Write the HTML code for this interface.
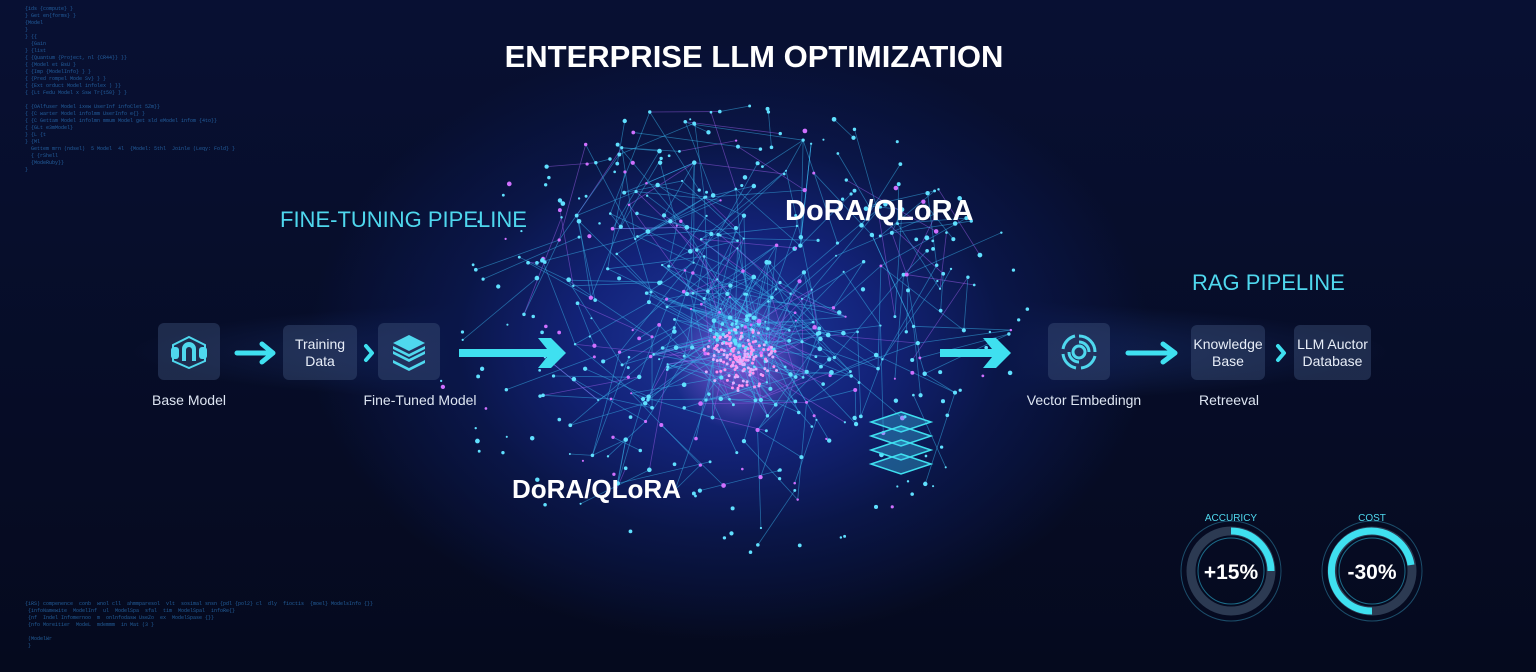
<!DOCTYPE html><html><head><style>
body{margin:0;width:1536px;height:672px;overflow:hidden;background:#060c22;font-family:"Liberation Sans",sans-serif}
#bg{position:absolute;inset:0;background:radial-gradient(ellipse 420px 300px at 730px 340px,#1f3aa0 0%,#13237a 35%,#0a1648 65%,transparent 100%),radial-gradient(ellipse 900px 80px at 760px 352px,rgba(60,120,255,.35),transparent 70%),linear-gradient(#081033,#050a1e)}
.t{position:absolute;color:#fff;white-space:nowrap}
.box{position:absolute;background:rgba(60,80,120,.45);border-radius:6px;color:#e8eef8;font-size:14px;text-align:center;display:flex;align-items:center;justify-content:center;line-height:17px}
.lbl{position:absolute;color:#dde5f2;font-size:14px;white-space:nowrap;transform:translateX(-50%)}
.code{position:absolute;color:#2a72b8;font:5px "Liberation Mono",monospace;line-height:7px;white-space:pre;opacity:.8}
</style></head><body><div id="bg"></div>
<svg id="net" width="1536" height="672" style="position:absolute;left:0;top:0"></svg>
<div class="code" style="left:25px;top:6px">{ids {compute} }
} Get en{forms} }
{Model
}
} {{
  {Gain
} {list
{ {Quantum {Project, nl {CR44}} }}
{ {Model et BsU }
{ {Imp {ModelInfo} } }
{ {Pred rompel Mode Sv} } }
{ {Ext orduct Model infolex ) }}
{ {Lt Fedu Model x Ssw Tr{t50} } }

{ {OAlfuser Model ixew UserInf infoClet 5Zm}}
{ {C warter Model infolmm UserInfo e{} }
{ {C Gettam Model infolmn mmum Model get sld eModel infom {4to}}
{ {GLt e3mModel}
} {L {t
} {Ml
  Gettem mrn (ndsel)  5 Model  4l  {Model: 5thl  Joinle (Leqy: Fold} }
  { {rShell
  {ModeRuby}}
}</div>
<div class="code" style="left:25px;top:601px">{iRS) compenence  conb  wnol cll  ahmmparesol  vlt  sosimal snsn {pdl {pol2} cl  dly  fioctis  {moel} ModelsInfo {}}
 {infoNamewite  ModelInf  ul  ModelSpa  sfal  tim  ModelSpal  infoRe{}
 {nf  Indel Infomernoo  m  onlnfodasw UseZo  ex  ModelSpase {}}
 {nfo Moreitier  ModeL  mdemmm  in Mat (3 }

 (ModelWr
 }</div>
<div class="t" style="left:0;width:1508px;text-align:center;top:39px;font-size:31px;font-weight:bold">ENTERPRISE LLM OPTIMIZATION</div>
<div class="t" style="left:280px;top:207px;font-size:22px;color:#4fd8ee">FINE-TUNING PIPELINE</div>
<div class="t" style="left:785px;top:195px;font-size:29px;font-weight:bold">DoRA/QLoRA</div>
<div class="t" style="left:512px;top:474px;font-size:26px;font-weight:bold">DoRA/QLoRA</div>
<div class="t" style="left:1192px;top:270px;font-size:22px;color:#4fd8ee">RAG PIPELINE</div>

<div class="box" style="left:158px;top:323px;width:62px;height:57px"><svg width="40" height="34" viewBox="0 0 40 34"><path d="M20 2 L36 10 L36 26 L20 33 L4 26 L4 10Z" fill="none" stroke="#4fd8ee" stroke-width="2"/><rect x="2" y="12" width="8" height="12" rx="3" fill="#4fd8ee"/><rect x="30" y="12" width="8" height="12" rx="3" fill="#4fd8ee"/><path d="M13 26 V14 a7 7 0 0 1 14 0 V26 h-4 V15 a3 3 0 0 0 -6 0 V26Z" fill="#4fd8ee"/></svg></div>
<div class="box" style="left:283px;top:325px;width:74px;height:55px">Training<br>Data</div>
<div class="box" style="left:378px;top:323px;width:62px;height:57px"><svg width="36" height="38" viewBox="0 0 36 38"><path d="M18 2 L34 10 L18 18 L2 10Z" fill="#4fd8ee"/><path d="M2 18 L18 26 L34 18 L34 21 L18 29 L2 21Z" fill="#4fd8ee"/><path d="M2 27 L18 35 L34 27 L34 30 L18 38 L2 30Z" fill="#4fd8ee"/><path d="M2 13 L18 21 L34 13 L34 16 L18 24 L2 16Z" fill="#4fd8ee"/></svg></div>
<div class="box" style="left:1048px;top:323px;width:62px;height:57px"><svg width="40" height="40" viewBox="-20 -20 40 40"><g fill="none" stroke="#4fd8ee" stroke-width="3"><circle r="6"/><path d="M0 -16 A16 16 0 0 1 16 0"/><path d="M16 4 A16 16 0 0 1 2 16"/><path d="M-3 16 A16 16 0 0 1 -16 2"/><path d="M-16 -3 A16 16 0 0 1 -4 -16"/><path d="M0 -10 A10 10 0 0 1 10 0"/><path d="M0 10 A10 10 0 0 1 -10 0"/></g></svg></div>
<div class="box" style="left:1191px;top:325px;width:74px;height:55px">Knowledge<br>Base</div>
<div class="box" style="left:1294px;top:325px;width:77px;height:55px">LLM Auctor<br>Database</div>

<div class="lbl" style="left:189px;top:392px">Base Model</div>
<div class="lbl" style="left:420px;top:392px">Fine-Tuned Model</div>
<div class="lbl" style="left:1084px;top:392px">Vector Embedingn</div>
<div class="lbl" style="left:1229px;top:392px">Retreeval</div>

<svg width="1536" height="672" style="position:absolute;left:0;top:0">
<g stroke="#3fe0f0" fill="none" stroke-linecap="round" stroke-linejoin="round">
<path d="M237 353H272M262 344L273 353L262 362" stroke-width="5"/>
<path d="M366 346L372 353L366 360" stroke-width="4"/>
<path d="M1278 346L1284 353L1278 360" stroke-width="4"/>
<path d="M1128 353H1175M1163 344L1175 353L1163 362" stroke-width="5"/>
</g>
<g fill="#3fe0f0"><path d="M459 349H547L538 338L551 338L566 353L551 368L538 368L547 357H459Z"/><path d="M940 349H992L983 338L996 338L1011 353L996 368L983 368L992 357H940Z"/></g>
<g transform="translate(901 440)" stroke="#3fe0f0" stroke-width="1.5" fill="rgba(60,200,240,.35)"><path d="M0 -28 L30 -18 L0 -8 L-30 -18Z"/><path d="M0 -14 L30 -4 L0 6 L-30 -4Z"/><path d="M0 0 L30 10 L0 20 L-30 10Z"/><path d="M0 14 L30 24 L0 34 L-30 24Z"/></g>
<g fill="none">
<circle cx="1231" cy="571" r="50" stroke="#1c4d6a" stroke-width="1"/>
<circle cx="1231" cy="571" r="40" stroke="#2c3a52" stroke-width="9"/>
<path d="M1231 531 A40 40 0 0 1 1271 571" stroke="#3fe0f0" stroke-width="7" stroke-linecap="butt"/>
<circle cx="1231" cy="571" r="33" stroke="#1c6b88" stroke-width="1"/>
<circle cx="1372" cy="571" r="50" stroke="#1c4d6a" stroke-width="1"/>
<circle cx="1372" cy="571" r="40" stroke="#2c3a52" stroke-width="9"/>
<path d="M1411 565 A40 40 0 1 0 1372 611" stroke="#3fe0f0" stroke-width="7"/>
<circle cx="1372" cy="571" r="33" stroke="#1c6b88" stroke-width="1"/>
</g>
<g font-family="Liberation Sans" text-anchor="middle">
<text x="1231" y="521" fill="#4fd8ee" font-size="10">ACCURICY</text>
<text x="1372" y="521" fill="#4fd8ee" font-size="10">COST</text>
<text x="1231" y="579" fill="#fff" font-size="21" font-weight="bold">+15%</text>
<text x="1372" y="579" fill="#fff" font-size="21" font-weight="bold">-30%</text>
</g></svg>
<script>
var s=document.getElementById('net'),seed=7;function r(){seed=(seed*16807)%2147483647;return seed/2147483647}
var P=[],h='';for(var i=0;i<520;i++){var a=r()*6.283,d=Math.pow(r(),0.8);var x=730+Math.cos(a)*d*300,y=330+Math.sin(a)*d*230;P.push([x,y])}
for(i=0;i<P.length;i++){for(var k=0;k<5;k++){var j=Math.floor(r()*P.length),q=P[j],p=P[i];var dd=Math.hypot(p[0]-q[0],p[1]-q[1]);if(dd<110)h+='<line x1="'+p[0]+'" y1="'+p[1]+'" x2="'+q[0]+'" y2="'+q[1]+'" stroke="'+(r()<.15?'#a060f0':'#3ab8f0')+'" stroke-opacity=".5" stroke-width=".8"/>'}}
for(i=0;i<P.length;i++){h+='<circle cx="'+P[i][0]+'" cy="'+P[i][1]+'" r="'+(1+r()*1.4)+'" fill="'+(r()<.18?'#d070ff':'#60e0ff')+'"/>'}
for(i=0;i<160;i++){a=r()*6.283;d=r()*40;h+='<circle cx="'+(740+Math.cos(a)*d)+'" cy="'+(360+Math.sin(a)*d*.8)+'" r="1.5" fill="'+(r()<.5?'#ff90f0':'#e0b0ff')+'"/>'}
s.innerHTML='<defs><radialGradient id="g"><stop offset="0" stop-color="#c070ff" stop-opacity=".6"/><stop offset="1" stop-color="#c070ff" stop-opacity="0"/></radialGradient></defs><circle cx="740" cy="360" r="70" fill="url(#g)"/>'+h;
</script>
</body></html>
